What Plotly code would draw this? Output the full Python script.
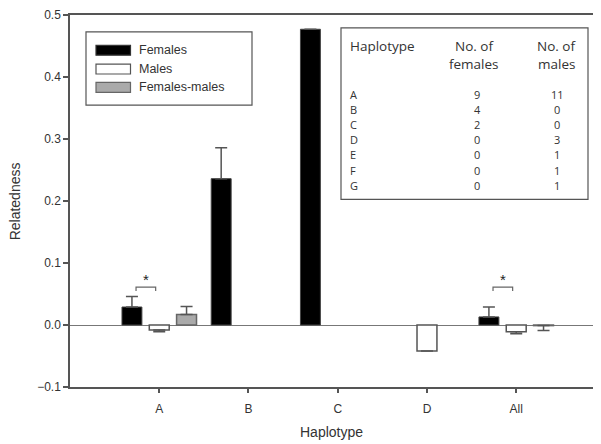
import plotly.graph_objects as go

# ---------------- data ----------------
categories = ["A", "B", "C", "D", "All"]
females = [0.029, 0.236, 0.477, None, 0.013]
females_err = [0.017, 0.050, 0.0, 0.0, 0.016]
males = [-0.008, None, None, -0.042, -0.011]
males_err = [0.003, 0.0, 0.0, 0.0, 0.003]
fem_males = [0.017, None, None, None, -0.001]
fem_males_err_up = [0.013, 0.0, 0.0, 0.0, 0.0]
fem_males_err_down = [0.0, 0.0, 0.0, 0.0, 0.008]

table_haplotypes = ["A", "B", "C", "D", "E", "F", "G"]
table_n_females = [9, 4, 2, 0, 0, 0, 0]
table_n_males = [11, 0, 0, 3, 1, 1, 1]

signif_groups = ["A", "All"]

yticks = [-0.1, 0.0, 0.1, 0.2, 0.3, 0.4, 0.5]

# ---------------- layout geometry ----------------
# the page body has an 8px margin, so the figure is laid out 8px smaller
OFF = 8
W, H = 601 - OFF, 444 - OFF
L, R, T, B = 62, 0, 4, 56.7
PW, PH = W - L - R, H - T - B


def px(x):
    """reference-picture x pixel -> paper x"""
    return (x - OFF - L) / PW


def py(y):
    """reference-picture y pixel -> paper y"""
    return (H - B - (y - OFF)) / PH


AXC = "#555555"
FONT = "Liberation Sans, Arial, sans-serif"
TFONT = "Open Sans, Noto Sans, sans-serif"
TXT = "#333333"

fig = go.Figure()
fig.add_trace(go.Bar(
    x=categories, y=females, name="Females",
    marker=dict(color="black", line=dict(color="#444444", width=1)),
    error_y=dict(type="data", symmetric=False, array=females_err,
                 arrayminus=[0] * 5, color=AXC, thickness=1.5, width=6),
))
fig.add_trace(go.Bar(
    x=categories, y=males, name="Males",
    marker=dict(color="white", line=dict(color="#555555", width=1.5)),
    error_y=dict(type="data", symmetric=False, array=[0] * 5,
                 arrayminus=males_err, color=AXC, thickness=1.5, width=6),
))
fig.add_trace(go.Bar(
    x=categories, y=fem_males, name="Females-males",
    marker=dict(color="#aaaaaa", line=dict(color="#666666", width=1.5)),
    error_y=dict(type="data", symmetric=False, array=fem_males_err_up,
                 arrayminus=fem_males_err_down, color=AXC, thickness=1.5, width=6),
))

shapes = []
annotations = []

# significance brackets
for g in signif_groups:
    i = categories.index(g)
    x0, x1 = i - 0.26, i - 0.04
    yb, yt = 0.055, 0.061
    shapes.append(dict(type="path", xref="x", yref="y",
                       path=f"M {x0} {yb} L {x0} {yt} L {x1} {yt} L {x1} {yb}",
                       line=dict(color="#666666", width=1.2)))
    annotations.append(dict(x=(x0 + x1) / 2, y=0.074, xref="x", yref="y",
                            text="*", showarrow=False, borderpad=0,
                            font=dict(family=FONT, size=15, color="#222222")))

# manual legend
shapes.append(dict(type="rect", xref="paper", yref="paper",
                   x0=px(86), x1=px(252), y0=py(103), y1=py(29),
                   line=dict(color="#555555", width=1.2), fillcolor="white"))
leg = [("Females", "black", "#333333", 47.5),
       ("Males", "white", "#555555", 66.5),
       ("Females-males", "#aaaaaa", "#666666", 85)]
for name, fill, ln, yc in leg:
    shapes.append(dict(type="rect", xref="paper", yref="paper",
                       x0=px(96), x1=px(130.5), y0=py(yc + 5), y1=py(yc - 5),
                       line=dict(color=ln, width=1.2), fillcolor=fill))
    annotations.append(dict(x=px(138), y=py(yc), xref="paper", yref="paper",
                            xanchor="left", yanchor="middle", text=name,
                            showarrow=False, borderpad=0,
                            font=dict(family=FONT, size=12.5, color=TXT)))

# table box
shapes.append(dict(type="rect", xref="paper", yref="paper",
                   x0=px(341), x1=px(588), y0=py(198), y1=py(25),
                   line=dict(color="#555555", width=1.2), fillcolor="white"))
tf = dict(family=TFONT, size=13.5, color=TXT)
hdr = [("Haplotype", "", 349, "left"),
       ("No. of", "females", 474, "center"),
       ("No. of", "males", 556, "center")]
for l1, l2, xx, anc in hdr:
    annotations.append(dict(x=px(xx), y=py(43), xref="paper", yref="paper",
                            xanchor=anc, yanchor="middle", text=l1,
                            showarrow=False, borderpad=0, font=tf))
    if l2:
        annotations.append(dict(x=px(xx), y=py(61), xref="paper", yref="paper",
                                xanchor=anc, yanchor="middle", text=l2,
                                showarrow=False, borderpad=0, font=tf))
tf2 = dict(family=TFONT, size=11, color=TXT)
for k, (h, nf, nm) in enumerate(zip(table_haplotypes, table_n_females, table_n_males)):
    yy = 92 + 15.3 * k
    annotations.append(dict(x=px(349), y=py(yy), xref="paper", yref="paper",
                            xanchor="left", yanchor="middle", text=h,
                            showarrow=False, borderpad=0, font=tf2))
    annotations.append(dict(x=px(477), y=py(yy), xref="paper", yref="paper",
                            xanchor="center", yanchor="middle", text=str(nf),
                            showarrow=False, borderpad=0, font=tf2))
    annotations.append(dict(x=px(557), y=py(yy), xref="paper", yref="paper",
                            xanchor="center", yanchor="middle", text=str(nm),
                            showarrow=False, borderpad=0, font=tf2))

# axis titles
annotations.append(dict(x=px(331), y=py(433), xref="paper", yref="paper",
                        xanchor="center", yanchor="middle", text="Haplotype",
                        showarrow=False, borderpad=0,
                        font=dict(family=FONT, size=14, color=TXT)))
annotations.append(dict(x=px(15), y=py(200), xref="paper", yref="paper",
                        xanchor="center", yanchor="middle", text="Relatedness",
                        textangle=-90, showarrow=False, borderpad=0,
                        font=dict(family=FONT, size=14, color=TXT)))

fig.update_layout(
    width=W, height=H,
    margin=dict(l=L, r=R, t=T, b=B, pad=0),
    paper_bgcolor="white", plot_bgcolor="white",
    barmode="group", bargap=0.082, bargroupgap=0.27,
    showlegend=False,
    shapes=shapes, annotations=annotations,
    font=dict(family=FONT, size=12, color=TXT),
)
fig.update_xaxes(
    type="category", categoryorder="array", categoryarray=categories,
    range=[-1, 4.95], showgrid=False, zeroline=False,
    showline=True, linecolor=AXC, linewidth=1.5, mirror=True,
    ticks="outside", ticklen=4, tickcolor=AXC, tickwidth=1.5,
    ticklabelstandoff=6,
    tickfont=dict(family=FONT, size=12, color=TXT),
)
fig.update_yaxes(
    range=[-0.1, 0.5], tickvals=yticks, tickformat=".1f",
    ticklabeloverflow="allow",
    showgrid=False, zeroline=True, zerolinecolor="#777777", zerolinewidth=1.2,
    showline=True, linecolor=AXC, linewidth=1.5, mirror=False,
    ticks="outside", ticklen=5, tickcolor=AXC, tickwidth=1.5,
    tickfont=dict(family=FONT, size=12, color=TXT),
)

fig.write_html("out.html")
